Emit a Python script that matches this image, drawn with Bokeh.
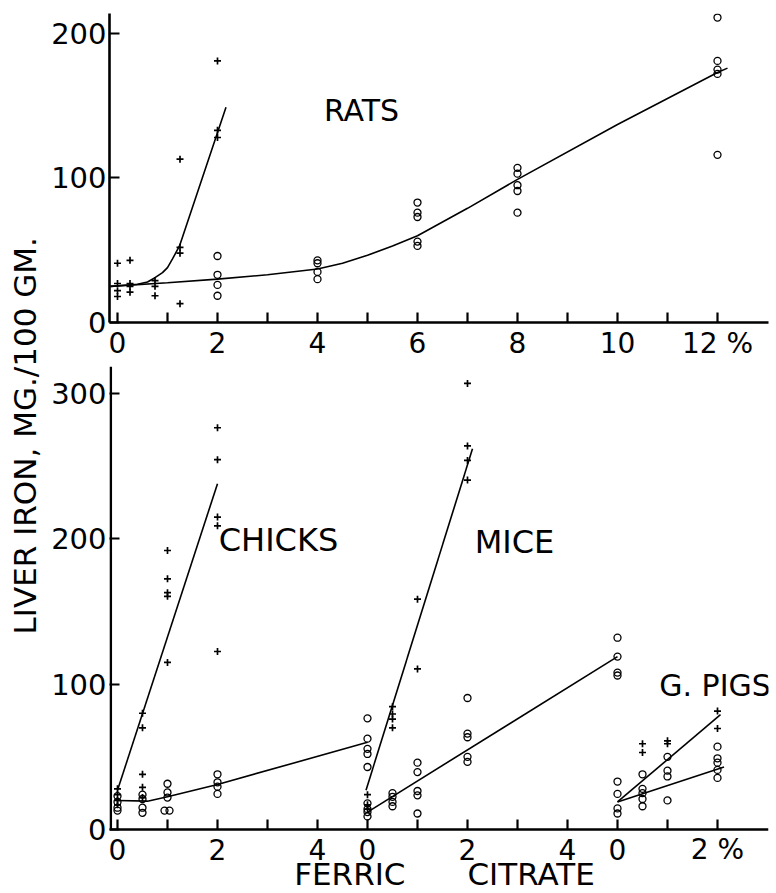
from math import pi
from bokeh.plotting import figure
from bokeh.models import FixedTicker, Label, Range1d
from bokeh.core.properties import value
from bokeh.layouts import row, column
from bokeh.embed import file_html
from bokeh.resources import INLINE

FONT = "DejaVu Sans"

# ---------------- RATS (dose in %, liver iron mg/100 gm) ----------------
rats_dose_plus = [0, 0, 0, 0, 0.25, 0.25, 0.25, 0.25, 0.75, 0.75, 0.75,
                  1.25, 1.25, 1.25, 1.25, 2, 2, 2]
rats_iron_plus = [41, 27, 22, 18, 43, 27, 25, 21, 29, 25, 18.5,
                  113, 52, 48, 13, 181, 133, 128]
rats_dose_o = [2, 2, 2, 2, 4, 4, 4, 4, 6, 6, 6, 6, 6,
               8, 8, 8, 8, 8, 12, 12, 12, 12, 12]
rats_iron_o = [46, 33, 26, 18.5, 43, 41, 35, 30, 83, 76, 73, 56, 53,
               107, 103, 95, 91, 76, 211, 181, 175, 172, 116]
rats_fit_o_x = [-0.14, 1, 2, 3, 4, 4.5, 5, 5.5, 6, 7, 8, 10, 12, 12.2]
rats_fit_o_y = [25, 27.5, 30, 33, 37, 41, 46.5, 53, 60, 79, 99, 137, 173, 176]
rats_fit_p_x = [-0.14, 0.4, 0.6, 0.75, 0.9, 1.0, 1.1, 1.24, 2.17]
rats_fit_p_y = [25, 26.5, 28, 31, 34.5, 38, 44, 53, 149]

# ---------------- CHICKS ----------------
chicks_dose_plus = [0, 0, 0, 0, 0.5, 0.5, 0.5, 0.5, 0.5, 1, 1, 1, 1, 1, 2, 2, 2, 2, 2]
chicks_iron_plus = [28, 24, 20, 17, 80, 70, 38, 29, 22,
                    192, 172.5, 163, 160.5, 115, 276.5, 254.5, 215, 209, 122.5]
chicks_dose_o = [0, 0, 0, 0, 0.5, 0.5, 0.5, 0.5, 1, 1, 1, 0.94, 1.04,
                 2, 2, 2, 2, 5, 5, 5, 5, 5]
chicks_iron_o = [23, 19, 15, 13, 24, 21, 15, 11.5, 31.5, 25.5, 22, 13, 13,
                 38, 32.5, 29.5, 24.5, 76.5, 62.5, 55.5, 52, 43]
chicks_fit_o_x = [0, 0.6, 1, 2, 5]
chicks_fit_o_y = [20, 19.5, 22.5, 31, 60]
chicks_fit_p_x = [0, 2]
chicks_fit_p_y = [27, 238]

# ---------------- MICE ----------------
mice_dose_plus = [0, 0, 0, 0.5, 0.5, 0.5, 0.5, 1, 1, 2, 2, 2, 2]
mice_iron_plus = [24, 17, 14, 84.5, 79.5, 76, 70, 158.5, 110.5, 307, 264, 254, 240.5]
mice_dose_o = [0, 0, 0, 0, 0.5, 0.5, 0.5, 0.5, 1, 1, 1, 1, 1,
               2, 2, 2, 2, 2, 5, 5, 5, 5]
mice_iron_o = [18, 14, 12, 9, 25, 22.5, 19, 16, 46, 39.5, 26.5, 23.5, 11,
               90.5, 66, 63.5, 50, 46.5, 132, 119, 108, 106]
mice_fit_o_x = [0, 5]
mice_fit_o_y = [12, 119]
mice_fit_p_x = [-0.03, 2.1]
mice_fit_p_y = [27, 262]

# ---------------- GUINEA PIGS ----------------
gp_dose_plus = [0.5, 0.5, 1, 1, 2, 2]
gp_iron_plus = [59, 53, 61, 59, 81.5, 69.5]
gp_dose_o = [0, 0, 0, 0, 0.5, 0.5, 0.5, 0.5, 0.5, 1, 1, 1, 1, 2, 2, 2, 2, 2]
gp_iron_o = [33, 24.5, 14.5, 11, 38, 28, 25, 21, 16, 50, 40.5, 36.5, 20,
             57, 49, 46, 41, 35.5]
gp_fit_p_x = [0, 2.06]
gp_fit_p_y = [19, 79]
gp_fit_o_x = [0, 2.13]
gp_fit_o_y = [19, 43]

# tick labels
top_ticks = list(range(13))
top_tick_labels = ["0", "", "2", "", "4", "", "6", "", "8", "", "10", "", "12 %"]
bottom_ticks = list(range(13))
bottom_tick_labels = ["0", "", "2", "", "4", "0", "", "2", "", "4", "0", "", "2 %"]
bottom_y_ticks = [0, 100, 200, 300]
x_title = "FERRIC\u2003\u2003CITRATE"

# group offsets on the shared bottom axis
CHICKS_OFF, MICE_OFF, GP_OFF = 0, 5, 10
XR = (-0.16, 13.02)


def shift(xs, off):
    return [x + off for x in xs]


def base_style(p):
    p.outline_line_color = None
    p.xgrid.visible = False
    p.ygrid.visible = False
    p.background_fill_color = "white"
    p.border_fill_color = "white"
    for ax in p.axis:
        ax.axis_line_width = 2.6
        ax.axis_line_color = "black"
        ax.major_tick_in = 10
        ax.major_tick_out = 0
        ax.minor_tick_in = 0
        ax.minor_tick_out = 0
        ax.major_tick_line_width = 2.2
        ax.major_tick_line_color = "black"
        ax.major_label_text_font = FONT
        ax.major_label_text_color = "black"
        ax.major_label_text_font_style = "normal"
    p.yaxis.major_label_text_font_size = "29px"
    p.yaxis.major_label_standoff = 3


def pts(p, x, y, kind):
    if kind == "o":
        p.scatter(x, y, marker="circle", size=7, fill_color=None,
                  line_color="black", line_width=1.3)
    else:
        p.scatter(x, y, marker="cross", size=7, line_color="black", line_width=1.7)


def fit(p, x, y):
    p.line(x, y, line_color="black", line_width=1.6)


def lab(p, text, x, y, size="30px"):
    p.add_layout(Label(x=x, y=y, text=text, text_font=FONT, text_font_size=size,
                       text_align="center", text_baseline="middle",
                       text_color="black"))


# ---------------- top panel ----------------
top = figure(width=726, height=366, x_range=Range1d(*XR),
             y_range=Range1d(0, 213.8), output_backend="svg",
             toolbar_location=None, min_border_left=61, min_border_right=6,
             min_border_top=13, min_border_bottom=44)
base_style(top)
top.xaxis.ticker = FixedTicker(ticks=top_ticks)
top.xaxis.major_label_overrides = {t: l for t, l in zip(top_ticks, top_tick_labels)}
top.xaxis.major_label_text_font_size = "28px"
top.xaxis.major_label_standoff = 4
top.yaxis.ticker = FixedTicker(ticks=[0, 100, 200])
fit(top, rats_fit_o_x, rats_fit_o_y)
fit(top, rats_fit_p_x, rats_fit_p_y)
pts(top, rats_dose_plus, rats_iron_plus, "+")
pts(top, rats_dose_o, rats_iron_o, "o")
lab(top, "RATS", 4.88, 147)

# ---------------- bottom panel ----------------
# frame runs to the bottom of the page; the dose axis is drawn at y = 0
Y_PX = 1.453            # pixels per mg/100 gm in the bottom panel
bottom = figure(width=726, height=526, x_range=Range1d(*XR),
                y_range=Range1d(-63 / Y_PX, 463 / Y_PX), output_backend="svg",
                toolbar_location=None, min_border_left=61, min_border_right=6,
                min_border_top=0, min_border_bottom=0, x_axis_location=None)
base_style(bottom)
bottom.yaxis.ticker = FixedTicker(ticks=bottom_y_ticks)
bottom.yaxis.axis_line_color = None
# axis lines, ticks and labels of the shared dose axis
bottom.segment(x0=[XR[0] + 0.025], y0=[0], x1=[XR[0] + 0.025], y1=[463 / Y_PX],
               line_color="black", line_width=2.6)
bottom.segment(x0=[XR[0]], y0=[0], x1=[XR[1]], y1=[0],
               line_color="black", line_width=2.6)
bottom.segment(x0=bottom_ticks, y0=[0] * len(bottom_ticks), x1=bottom_ticks,
               y1=[10 / Y_PX] * len(bottom_ticks), line_color="black", line_width=2.2)
bottom.text(x=bottom_ticks, y=[-20 / Y_PX] * len(bottom_ticks), text=bottom_tick_labels,
            text_font=value(FONT), text_font_size="28px", text_align="center",
            text_baseline="middle", text_color="black")
bottom.text(x=[6.54], y=[-44 / Y_PX], text=[x_title], text_font=value(FONT),
            text_font_size="31px", text_align="center", text_baseline="middle",
            text_color="black")

fit(bottom, shift(chicks_fit_o_x, CHICKS_OFF), chicks_fit_o_y)
fit(bottom, shift(chicks_fit_p_x, CHICKS_OFF), chicks_fit_p_y)
pts(bottom, shift(chicks_dose_plus, CHICKS_OFF), chicks_iron_plus, "+")
pts(bottom, shift(chicks_dose_o, CHICKS_OFF), chicks_iron_o, "o")

fit(bottom, shift(mice_fit_o_x, MICE_OFF), mice_fit_o_y)
fit(bottom, shift(mice_fit_p_x, MICE_OFF), mice_fit_p_y)
pts(bottom, shift(mice_dose_plus, MICE_OFF), mice_iron_plus, "+")
pts(bottom, shift(mice_dose_o, MICE_OFF), mice_iron_o, "o")

fit(bottom, shift(gp_fit_o_x, GP_OFF), gp_fit_o_y)
fit(bottom, shift(gp_fit_p_x, GP_OFF), gp_fit_p_y)
pts(bottom, shift(gp_dose_plus, GP_OFF), gp_iron_plus, "+")
pts(bottom, shift(gp_dose_o, GP_OFF), gp_iron_o, "o")

lab(bottom, "CHICKS", 3.22, 199, "32px")
lab(bottom, "MICE", 7.94, 198, "32px")
lab(bottom, "G. PIGS", 11.95, 99, "30px")

# ---------------- y-axis title strip ----------------
left = figure(width=48, height=892, x_range=Range1d(0, 1), y_range=Range1d(0, 1),
              output_backend="svg", toolbar_location=None,
              x_axis_location=None, y_axis_location=None, min_border=0)
left.outline_line_color = None
left.xgrid.visible = False
left.ygrid.visible = False
left.add_layout(Label(x=0.5, y=0.512, text="LIVER IRON, MG./100 GM.", angle=pi / 2,
                      text_font=FONT, text_font_size="31px", text_align="center",
                      text_baseline="middle", text_color="black"))

layout = row(left, column(top, bottom, spacing=0), spacing=0)

open("out.html", "w").write(file_html(layout, INLINE))
